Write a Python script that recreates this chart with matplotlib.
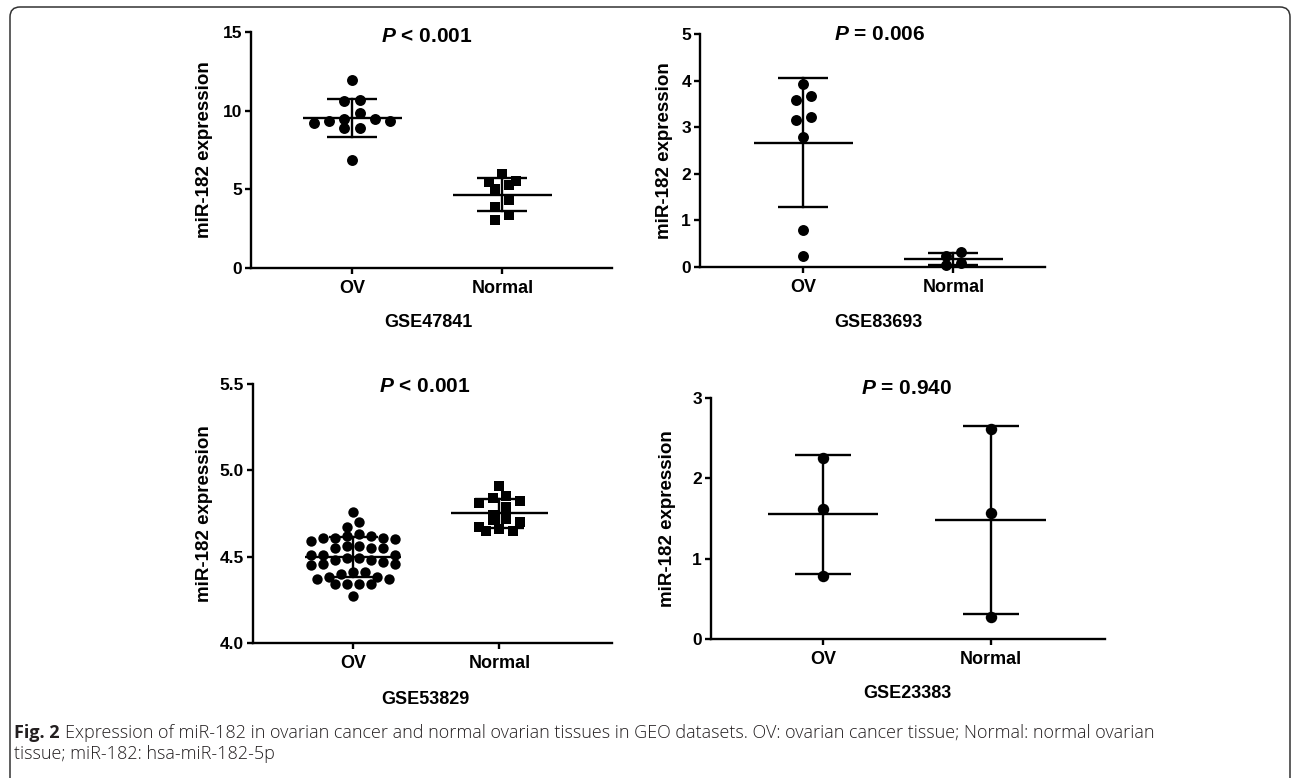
import numpy as np
import matplotlib
matplotlib.use("Agg")
import matplotlib.pyplot as plt
from matplotlib.patches import FancyBboxPatch
from matplotlib.transforms import Affine2D

plt.rcParams['font.family'] = ['Liberation Sans', 'DejaVu Sans']
plt.rcParams['mathtext.fontset'] = 'custom'
plt.rcParams['mathtext.it'] = 'Liberation Sans:bold:italic'
plt.rcParams['mathtext.rm'] = 'Liberation Sans:bold'

# data
groups = ["OV", "Normal"]
datasets = ["GSE47841", "GSE83693", "GSE53829", "GSE23383"]
p_text = ["< 0.001", "= 0.006", "< 0.001", "= 0.940"]

gse47841_ov = [11.93, 10.66, 10.59, 9.85, 9.49, 9.49, 9.34, 9.34, 9.24, 8.90, 8.90, 6.84]
gse47841_normal = [6.00, 5.53, 5.47, 5.25, 5.04, 4.30, 3.88, 3.35, 3.03]

gse83693_ov = [3.92, 3.67, 3.59, 3.21, 3.16, 2.80, 0.79, 0.23]
gse83693_normal = [0.32, 0.23, 0.09, 0.04]

gse53829_ov = [4.76, 4.70, 4.67, 4.63, 4.62, 4.62, 4.61, 4.61, 4.61, 4.60, 4.59,
               4.56, 4.56, 4.55, 4.55, 4.55, 4.51, 4.51, 4.51, 4.49, 4.49, 4.48,
               4.48, 4.47, 4.46, 4.46, 4.45, 4.41, 4.41, 4.40, 4.38, 4.38, 4.37,
               4.37, 4.34, 4.34, 4.34, 4.34, 4.27]
gse53829_normal = [4.91, 4.85, 4.84, 4.82, 4.81, 4.79, 4.74, 4.72, 4.71, 4.70,
                   4.67, 4.66, 4.65, 4.65]

gse23383_ov = [2.25, 1.62, 0.78]
gse23383_normal = [2.61, 1.57, 0.27]

yticks = [[0, 5, 10, 15], [0, 1, 2, 3, 4, 5], [4.0, 4.5, 5.0, 5.5], [0, 1, 2, 3]]
ytick_fmt = ["{:g}", "{:g}", "{:.1f}", "{:g}"]

caption_bold = "Fig. 2"
caption_1 = ("Expression of miR-182 in ovarian cancer and normal ovarian tissues in GEO datasets. "
             "OV: ovarian cancer tissue; Normal: normal ovarian")
caption_2 = "tissue; miR-182: hsa-miR-182-5p"

W, H = 1292, 778
fig = plt.figure(figsize=(W / 100, H / 100), dpi=100)

def fx(x):
    return x / W

def fy(y):
    return 1 - y / H

def swarm(ax, xc, vals, d):
    # Prism-like scatter: group values into rows about one marker high,
    # spread each row sideways around the group centre
    vals = np.asarray(vals, float)
    pts = ax.transData.transform(np.column_stack([np.full(len(vals), xc), vals]))
    x0 = pts[0, 0]
    ys = pts[:, 1]
    xs = np.full(len(vals), x0)
    order = list(np.argsort(-vals))
    rows = []
    for i in order:
        if rows and ys[rows[-1][0]] - ys[i] < d * 0.9:
            rows[-1].append(i)
        else:
            rows.append([i])
    nmax = max(len(rw) for rw in rows)
    step = d * 1.4 if nmax < 2 else min(d * 1.4, 84 / (nmax - 1))
    for row in rows:
        n = len(row)
        offs = np.arange(n) - (n - 1) / 2
        offs = sorted(offs, key=lambda o: (abs(o), -o))
        for i, o in zip(row, offs):
            xs[i] = x0 + o * step
    back = ax.transData.inverted().transform(np.column_stack([xs, ys]))
    return back[:, 0]

# layout in pixels: left, right, top, bottom
panels = [
    dict(ov=gse47841_ov, nm=gse47841_normal, box=(251, 612, 32, 268), xl=(-0.673, 1.73), yl=(0, 15),
         mk=("o", "s"), ms=(62, 50), lab_x=213, title=(427, 36), gse=(428, 323)),
    dict(ov=gse83693_ov, nm=gse83693_normal, box=(700, 1045, 34, 267), xl=(-0.687, 1.61), yl=(0, 5),
         mk=("o", "o"), ms=(62, 62), lab_x=673, title=(880, 35), gse=(878, 323)),
    dict(ov=gse53829_ov, nm=gse53829_normal, box=(253, 612, 384, 643), xl=(-0.685, 1.77), yl=(4.0, 5.5),
         mk=("o", "s"), ms=(56, 48), lab_x=213, title=(425, 386), gse=(425, 700)),
    dict(ov=gse23383_ov, nm=gse23383_normal, box=(711, 1105, 398, 639), xl=(-0.667, 1.68), yl=(0, 3),
         mk=("o", "o"), ms=(68, 68), lab_x=676, title=(907, 389), gse=(907, 693)),
]

for k, p in enumerate(panels):
    l, r, t, b = p["box"]
    ax = fig.add_axes([fx(l), fy(b), (r - l) / W, (b - t) / H])
    ax.set_xlim(*p["xl"])
    ax.set_ylim(*p["yl"])
    for s in ["top", "right"]:
        ax.spines[s].set_visible(False)
    for s in ["left", "bottom"]:
        ax.spines[s].set_linewidth(1.7)
    ax.tick_params(direction="out", length=4.5, width=1.7, labelsize=12.5, pad=2)
    ax.tick_params(axis="x", pad=4)
    ax.set_xticks([0, 1])
    ax.set_xticklabels(groups, fontweight="bold", fontsize=13)
    ax.set_yticks(yticks[k])
    ax.set_yticklabels([ytick_fmt[k].format(v) for v in yticks[k]], fontweight="bold")

    for xc, vals, mk, ms in [(0, p["ov"], p["mk"][0], p["ms"][0]), (1, p["nm"], p["mk"][1], p["ms"][1])]:
        d = np.sqrt(ms) * 100 / 72
        xs = swarm(ax, xc, vals, d)
        ax.scatter(xs, vals, s=ms, marker=mk, color="black", linewidths=0, zorder=2, clip_on=False)
        m = np.mean(vals)
        sd = np.std(vals, ddof=1)
        ax.plot([xc - 0.33, xc + 0.33], [m, m], color="black", lw=1.7, zorder=3, solid_capstyle="butt")
        ax.plot([xc, xc], [m - sd, m + sd], color="black", lw=1.7, zorder=3)
        for yv in (m - sd, m + sd):
            ax.plot([xc - 0.167, xc + 0.167], [yv, yv], color="black", lw=1.7, zorder=3,
                    solid_capstyle="butt")

    ax.set_ylabel("miR-182 expression", fontsize=13.5, fontweight="bold")
    ax.yaxis.set_label_coords((p["lab_x"] - l) / (r - l), 0.5)

    tx, ty = p["title"]
    fig.text(fx(tx), fy(ty), r"$\mathit{P}$ " + p_text[k], fontsize=15, fontweight="bold",
             ha="center", va="center")
    gx, gy = p["gse"]
    fig.text(fx(gx), fy(gy), datasets[k], fontsize=13, fontweight="bold", ha="center", va="center")

# caption
cap_font = ["Open Sans", "DejaVu Sans"]
t0 = fig.text(fx(14), fy(733), caption_bold, fontsize=13, fontweight="bold", ha="left",
              va="center", color="#231f20", family=cap_font)
rend = fig.canvas.get_renderer()
x_end = t0.get_window_extent(rend).x1
fig.text(fx(x_end + 5), fy(733), caption_1, fontsize=13, fontweight="light", ha="left",
         va="center", color="#231f20", family=cap_font)
fig.text(fx(14), fy(754), caption_2, fontsize=13, fontweight="light", ha="left",
         va="center", color="#231f20", family=cap_font)

# rounded frame
frame = FancyBboxPatch((10, -30), 1280, 801, boxstyle="round,pad=0,rounding_size=10",
                       fill=False, edgecolor="#333333", linewidth=1.1,
                       transform=Affine2D().scale(1 / W, 1 / H) + fig.transFigure)
fig.add_artist(frame)

fig.savefig("out.png", dpi=100)
